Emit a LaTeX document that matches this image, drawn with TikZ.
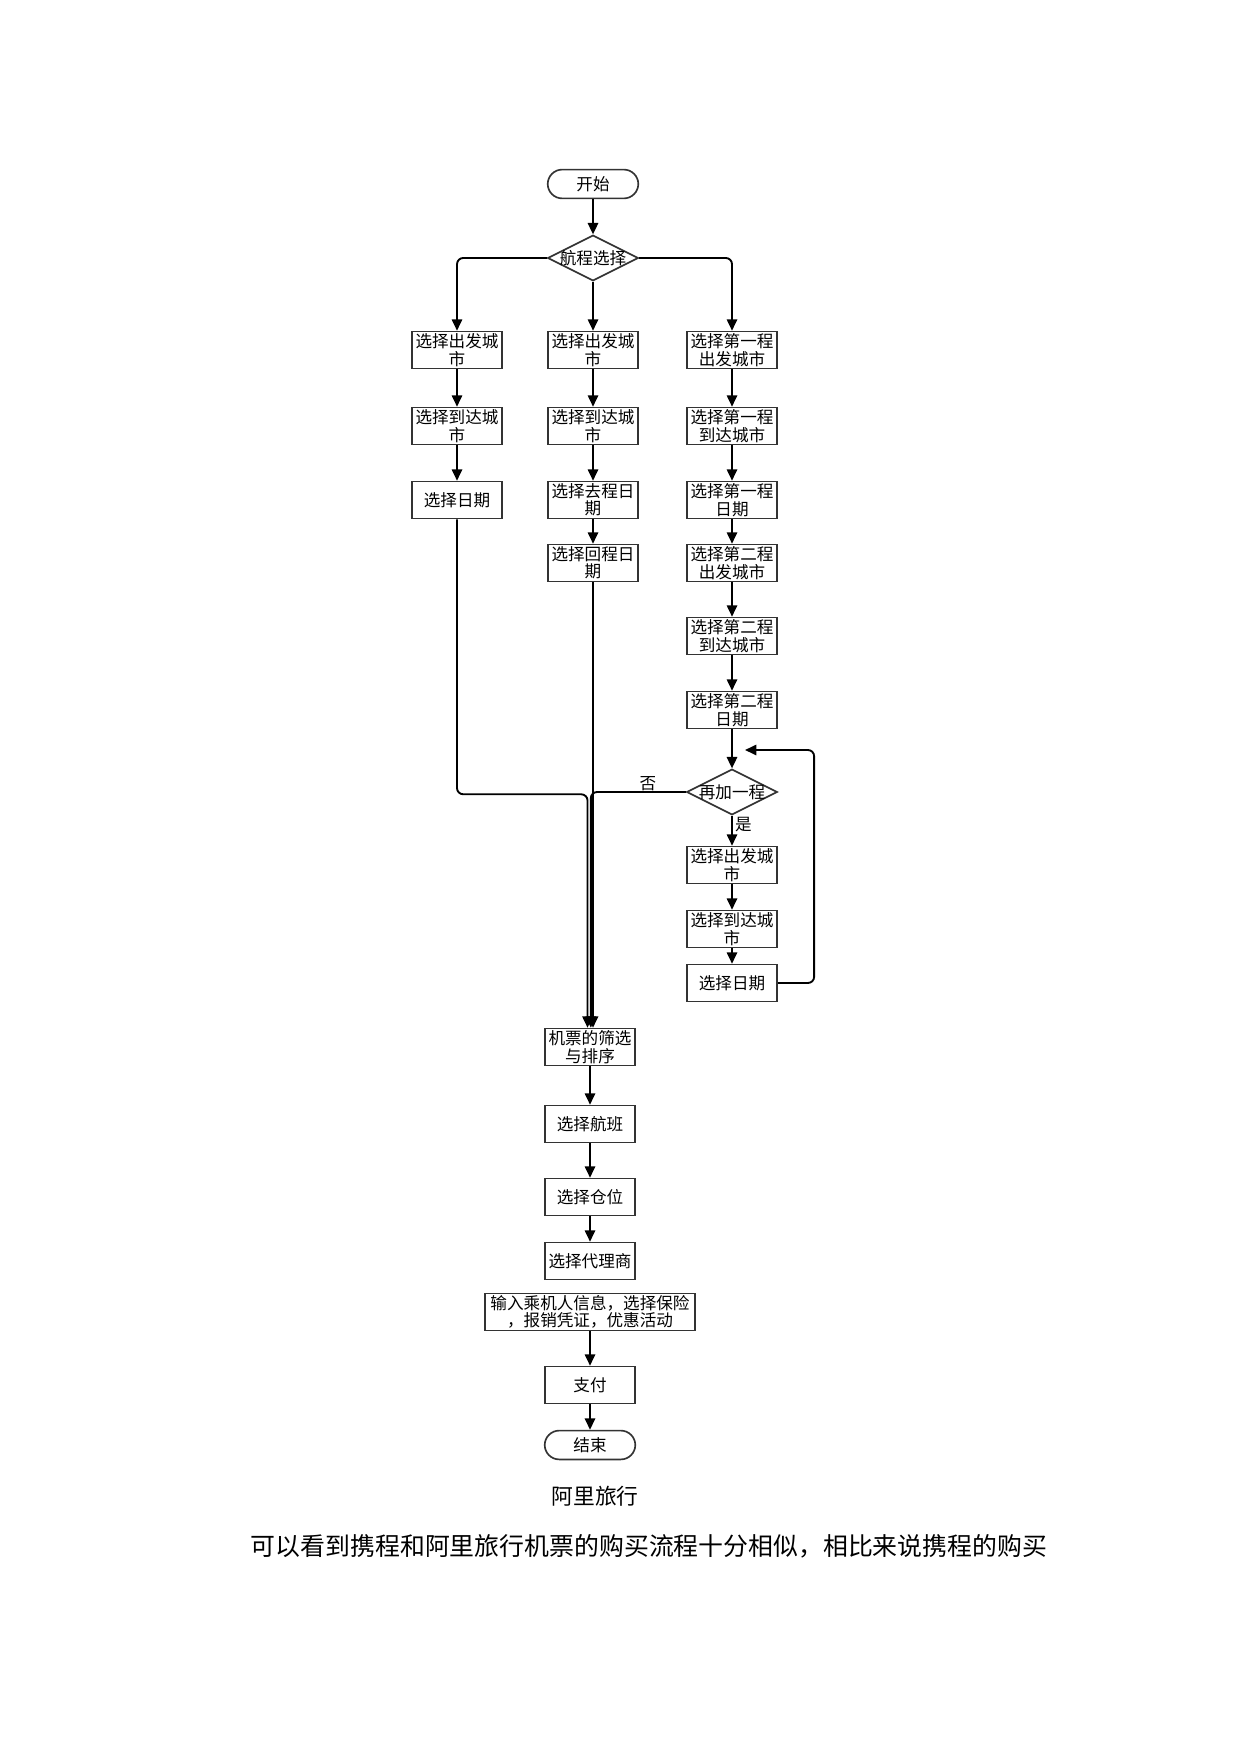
\documentclass[tikz,border=0pt]{standalone}
\usepackage{fontspec}
\newfontfamily\cjk{Noto Sans CJK SC}
\usepackage{tikz}
\usetikzlibrary{positioning,arrows.meta,shapes.geometric}
\definecolor{boxline}{HTML}{333333}
\tikzset{
  proc/.style  ={draw=boxline, line width=0.8pt, minimum width=43.7pt, minimum height=17.8pt,
                 inner sep=0pt, align=center, font=\cjk\fontsize{8}{8.4}\selectfont},
  term/.style  ={proc, rounded corners=7pt, minimum height=13.9pt},
  decide/.style={diamond, draw=boxline, line width=0.8pt, minimum width=43.7pt,
                 minimum height=22pt, inner sep=0pt},
  tag/.style   ={font=\cjk\fontsize{8}{8}\selectfont, inner sep=0pt},
  flow/.style  ={-{Triangle[length=5.5pt,width=5pt]}, line width=0.9pt, rounded corners=3pt},
}

\begin{document}
\begin{tikzpicture}[x=0.016949cm, y=-0.016949cm]
  \useasboundingbox (0,0) rectangle (1239,1754);
  % top
  \node[term] (start) at (593,184) {开始};
  \node[decide, label={[tag]center:航程选择}] (route) at (593,258) {};
  % one way
  \node[proc] (l1) at (457,350) {选择出发城\\市};
  \node[proc] (l2) at (457,426) {选择到达城\\市};
  \node[proc] (l3) at (457,500) {选择日期};
  % round trip
  \node[proc] (m1) at (593,350) {选择出发城\\市};
  \node[proc] (m2) at (593,426) {选择到达城\\市};
  \node[proc] (m3) at (593,500) {选择去程日\\期};
  \node[proc] (m4) at (593,563) {选择回程日\\期};
  % multi leg
  \node[proc] (r1) at (732,350) {选择第一程\\出发城市};
  \node[proc] (r2) at (732,426) {选择第一程\\到达城市};
  \node[proc] (r3) at (732,500) {选择第一程\\日期};
  \node[proc] (r4) at (732,563) {选择第二程\\出发城市};
  \node[proc] (r5) at (732,636) {选择第二程\\到达城市};
  \node[proc] (r6) at (732,710) {选择第二程\\日期};
  \node[decide, label={[tag]center:再加一程}] (more) at (732,792) {};
  \node[proc] (a1) at (732,865) {选择出发城\\市};
  \node[proc] (a2) at (732,929) {选择到达城\\市};
  \node[proc] (a3) at (732,983) {选择日期};
  \coordinate (back) at (745,750);
  % common part
  \node[proc] (filt)   at (590,1047) {机票的筛选\\与排序};
  \node[proc] (flight) at (590,1124) {选择航班};
  \node[proc] (cabin)  at (590,1197) {选择仓位};
  \node[proc] (agent)  at (590,1261) {选择代理商};
  \node[proc, minimum width=101.3pt] (info) at (590,1312) {输入乘机人信息，选择保险\\，报销凭证，优惠活动};
  \node[proc] (pay)    at (590,1385) {支付};
  \node[term] (stop)   at (590,1445) {结束};
  % captions
  \node[font=\cjk\fontsize{10.5}{12}\selectfont] (title) at (595,1496) {阿里旅行};
  \node[font=\cjk\fontsize{12}{14}\selectfont] (remark) at (649,1546)
    {可以看到携程和阿里旅行机票的购买流程十分相似，相比来说携程的购买};

  \draw[flow] (start) -- (route);
  \draw[flow] (route.west) -| (l1.north);
  \draw[flow] (route) -- (m1);
  \draw[flow] (route.east) -| (r1.north);
  \foreach \a/\b in {l1/l2,l2/l3,m1/m2,m2/m3,m3/m4,r1/r2,r2/r3,r3/r4,r4/r5,r5/r6,r6/more,
                     a1/a2,a2/a3,filt/flight,flight/cabin,cabin/agent,info/pay,pay/stop}
    \draw[flow] (\a) -- (\b);
  \draw[flow] (more) -- node[tag, pos=0.3, right=1pt]{是} (a1);
  \draw[flow] (a3.east) -- ++(36,0) |- (back);
  % merge into filter
  \draw[flow] (l3.south) -- ++(0,275) -| ([xshift=-1.2pt]filt.north);
  \draw[flow] (m4.south) -- (m4.south |- filt.north);
  \draw[flow] (more.west) -| node[tag, pos=0.2, anchor=south]{否} ([xshift=0.4pt]filt.north);
\end{tikzpicture}
\end{document}
